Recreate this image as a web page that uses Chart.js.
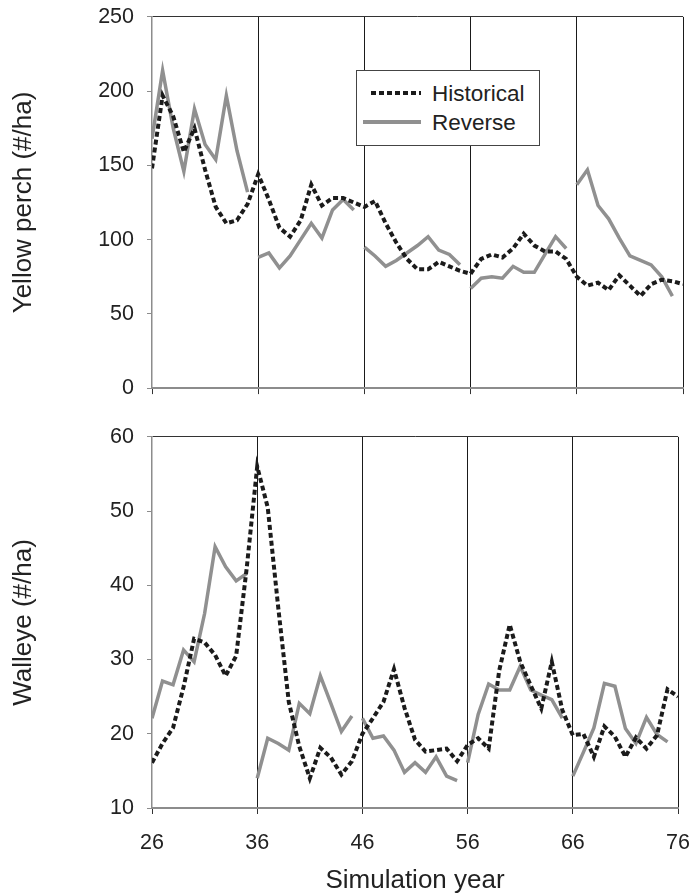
<!DOCTYPE html>
<html><head><meta charset="utf-8">
<script src="https://cdn.jsdelivr.net/npm/chart.js@4.4.1/dist/chart.umd.min.js"></script>
<style>
html,body{margin:0;padding:0;background:#fff;overflow:hidden;}
#wrap{position:relative;width:695px;height:896px;overflow:hidden;font-family:"Liberation Sans",Arial,sans-serif;}
canvas{position:absolute;left:0;}
#c1{top:-9px;}
#c2{top:411px;}
#legend{position:absolute;left:356px;top:70px;width:184px;height:76px;box-sizing:border-box;border:1.5px solid #444;background:#fff;}
.lg-text{position:absolute;font-size:22.5px;line-height:26px;color:#222;white-space:nowrap;}
.lg-hist{position:absolute;left:371px;top:91px;width:50px;height:4px;background:repeating-linear-gradient(90deg,#1b1b1b 0 5px,rgba(0,0,0,0) 5px 8px);}
.lg-rev{position:absolute;left:363px;top:120px;width:58px;height:3.5px;background:#909090;}
</style></head>
<body>
<div id="wrap">
<canvas id="c1" width="695" height="423"></canvas>
<canvas id="c2" width="706" height="485"></canvas>
<div id="legend"></div>
<div class="lg-hist"></div>
<div class="lg-text" style="left:432px;top:80.5px;">Historical</div>
<div class="lg-rev"></div>
<div class="lg-text" style="left:432px;top:109.5px;">Reverse</div>
</div>
<script>
// ---- data ----
const years = [26,27,28,29,30,31,32,33,34,35,36,37,38,39,40,41,42,43,44,45,46,47,48,49,50,
               51,52,53,54,55,56,57,58,59,60,61,62,63,64,65,66,67,68,69,70,71,72,73,74,75,76];
const xTicks = [26,36,46,56,66,76];
const perchTicks = [0,50,100,150,200,250];
const walleyeTicks = [10,20,30,40,50,60];
const breakYears = [35,45,55,65];

const historicalPerch = [148,197,183,159,175,147,122,111,113,124,
                         144,127,108,102,113,137,123,128,128,125,
                         122,126,111,98,87,80,80,85,82,79,
                         77,87,90,88,94,104,96,92,92,87,
                         75,69,71,66,76,69,62,70,73,72,70];
const reversePerch = [168,214,175,146,188,164,154,197,160,132,
                      88,91,81,89,100,111,101,120,127,120,
                      95,89,82,86,91,96,102,93,90,83,
                      67,74,75,74,82,78,78,90,102,94,
                      137,147,123,114,101,89,86,83,75,62];
const historicalWalleye = [16.1,18.7,20.8,26.3,32.8,32.3,30.6,27.8,30.5,42.3,
                           56.0,50.5,37.0,24.3,18.3,14.0,18.1,16.8,14.5,16.3,
                           20.0,22.1,24.3,28.7,23.5,19.2,17.6,17.8,18.0,16.3,
                           18.5,19.4,18.0,28.5,34.7,29.7,26.5,23.4,29.7,23.2,
                           19.8,20.0,16.9,21.0,19.6,16.9,19.5,18.0,19.8,26.0,25.0];
const reverseWalleye = [22.1,27.1,26.6,31.3,29.7,36.2,45.2,42.5,40.6,41.6,
                        14.0,19.4,18.7,17.8,24.1,22.7,27.8,24.1,20.3,22.4,
                        22.1,19.4,19.7,17.8,14.8,16.1,14.8,16.9,14.3,13.7,
                        16.1,22.6,26.7,25.9,25.9,29.1,25.9,25.2,24.6,22.1,
                        14.3,17.5,20.8,26.8,26.4,20.7,18.7,22.2,19.9,18.9];

// ---- styling ----
const FAM = '"Liberation Sans", Arial, sans-serif';
const HIST_COLOR = '#1b1b1b';
const REV_COLOR = '#909090';
const AXIS_GREY = '#8c8c8c';

function toPoints(vals){ return vals.map((v,i)=>({x: years[i], y: v})); }

function makeChart(id, hist, rev, yTicks, yTitle, showX){
  const yMin = yTicks[0], yMax = yTicks[yTicks.length-1];
  return new Chart(document.getElementById(id), {
    type: 'line',
    data: {
      datasets: [
        { label: 'Historical', data: toPoints(hist), borderColor: HIST_COLOR, borderWidth: 4,
          borderDash: [5,3], borderCapStyle: 'butt', pointRadius: 0, tension: 0, fill: false },
        { label: 'Reverse', data: toPoints(rev), borderColor: REV_COLOR, borderWidth: 3.5,
          pointRadius: 0, tension: 0, fill: false,
          segment: { borderColor: c => breakYears.includes(c.p0.parsed.x) ? 'rgba(0,0,0,0)' : REV_COLOR } }
      ]
    },
    options: {
      responsive: false, maintainAspectRatio: false, animation: false, devicePixelRatio: 1,
      layout: { padding: { top: 17, right: 12, left: 0, bottom: 0 } },
      plugins: { legend: { display: false }, tooltip: { enabled: false } },
      scales: {
        x: {
          type: 'linear', min: 26, max: 76,
          afterBuildTicks: s => { s.ticks = xTicks.map(v => ({ value: v })); },
          afterFit: s => { s.height = showX ? 88 : 22; },
          grid: { color: c => (c.tick && c.tick.value === 26) ? 'rgba(0,0,0,0)' : '#1a1a1a',
                  lineWidth: 1, drawTicks: true, tickLength: 6, tickColor: '#333' },
          border: { display: true, color: AXIS_GREY, width: 2 },
          ticks: { display: showX, padding: 16, color: '#222', font: { size: 21.5, family: FAM },
                   maxRotation: 0, autoSkip: false },
          title: { display: showX, text: 'Simulation year', color: '#222',
                   font: { size: 26, family: FAM }, padding: { top: 0, bottom: 0 } }
        },
        y: {
          min: yMin, max: yMax,
          afterBuildTicks: s => { s.ticks = yTicks.map(v => ({ value: v })); },
          afterFit: s => { s.width = 152; },
          grid: { color: c => (c.tick && c.tick.value === yMax) ? '#333' : 'rgba(0,0,0,0)',
                  lineWidth: 1, drawTicks: true, tickLength: 5, tickColor: AXIS_GREY },
          border: { display: true, color: AXIS_GREY, width: 1.5 },
          ticks: { padding: 13, color: '#222', font: { size: 21.5, family: FAM } },
          title: { display: true, text: yTitle, color: '#222',
                   font: { size: 26, family: FAM }, padding: { top: 8, bottom: 0 } }
        }
      }
    }
  });
}

makeChart('c1', historicalPerch, reversePerch, perchTicks, 'Yellow perch (#/ha)', false);
makeChart('c2', historicalWalleye, reverseWalleye, walleyeTicks, 'Walleye (#/ha)', true);
</script>
</body></html>
